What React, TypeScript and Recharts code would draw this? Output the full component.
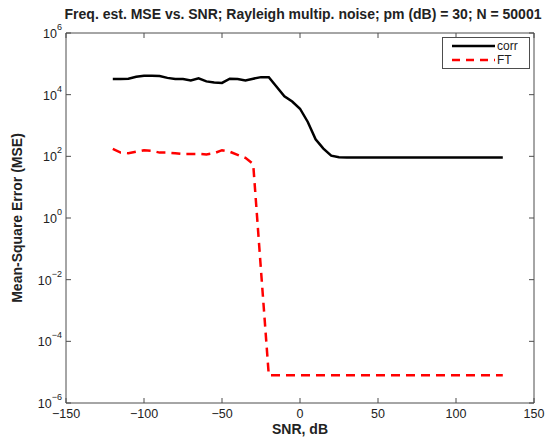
import React from "react";
import { LineChart, Line, XAxis, YAxis, ReferenceLine } from "recharts";

const snr = [
  -120, -115, -110, -105, -100, -95, -90, -85, -80, -75, -70, -65, -60, -55, -50, -45, -40, -35,
  -30, -25, -20, -15, -10, -5, 0, 5, 10, 15, 20, 25, 30, 35, 40, 45, 50, 55, 60, 65, 70, 75, 80,
  85, 90, 95, 100, 105, 110, 115, 120, 125, 130,
];

const corrMse = [
  3.2e4, 3.2e4, 3.3e4, 3.8e4, 4.1e4, 4.1e4, 4.0e4, 3.5e4, 3.2e4, 3.2e4, 2.9e4, 3.4e4, 2.7e4,
  2.5e4, 2.4e4, 3.3e4, 3.2e4, 2.9e4, 3.3e4, 3.7e4, 3.7e4, 1.8e4, 8.9e3, 6.0e3, 3.5e3, 1.3e3, 355,
  178, 105, 93, 91, 91, 91, 91, 91, 91, 91, 91, 91, 91, 91, 91, 91, 91, 91, 91, 91, 91, 91, 91, 91,
];

const ftMse = [
  174, 132, 126, 141, 158, 151, 132, 132, 126, 120, 120, 120, 115, 126, 158, 141, 112, 89, 56,
  0.02, 7.9e-6, 7.9e-6, 7.9e-6, 7.9e-6, 7.9e-6, 7.9e-6, 7.9e-6, 7.9e-6, 7.9e-6, 7.9e-6, 7.9e-6,
  7.9e-6, 7.9e-6, 7.9e-6, 7.9e-6, 7.9e-6, 7.9e-6, 7.9e-6, 7.9e-6, 7.9e-6, 7.9e-6, 7.9e-6, 7.9e-6,
  7.9e-6, 7.9e-6, 7.9e-6, 7.9e-6, 7.9e-6, 7.9e-6, 7.9e-6, 7.9e-6,
];

const xTicks = [-150, -100, -50, 0, 50, 100, 150];
const yTicks = [1e-6, 1e-4, 1e-2, 1, 1e2, 1e4, 1e6];

const data = snr.map((s, i) => ({ snr: s, corr: corrMse[i], ft: ftMse[i] }));

const FONT = "'Liberation Sans', Arial, Helvetica, sans-serif";
const AXIS = "#4d4d4d";
const TXT = "#222";

// plot box edges (chart margins + axis sizes)
const PLOT_TOP = 33;
const PLOT_W = 468;

const BottomTick = (props: any) => {
  const { x, y, payload } = props;
  const v = payload.value;
  return (
    <g>
      <line x1={x} x2={x} y1={y} y2={y - 5} stroke={AXIS} strokeWidth={1} />
      <line x1={x} x2={x} y1={PLOT_TOP} y2={PLOT_TOP + 5} stroke={AXIS} strokeWidth={1} />
      <text x={x} y={y + 15} textAnchor="middle" fontSize={12.5} fill={TXT} fontFamily={FONT}>
        {v < 0 ? `\u2212${Math.abs(v)}` : v}
      </text>
    </g>
  );
};

const LeftTick = (props: any) => {
  const { x, y, payload } = props;
  const exp = Math.round(Math.log10(payload.value));
  return (
    <g>
      <line x1={x} x2={x + 5} y1={y} y2={y} stroke={AXIS} strokeWidth={1} />
      <line x1={x + PLOT_W} x2={x + PLOT_W - 5} y1={y} y2={y} stroke={AXIS} strokeWidth={1} />
      <text x={x - 4} y={y + 5} textAnchor="end" fontSize={12.5} fill={TXT} fontFamily={FONT}>
        <tspan>10</tspan>
        <tspan dy={-8} fontSize={9}>
          {exp < 0 ? `\u2212${Math.abs(exp)}` : exp}
        </tspan>
      </text>
    </g>
  );
};

const LegendBox = () => (
  <div
    style={{
      position: "absolute",
      left: 442,
      top: 37,
      width: 86,
      height: 30,
      border: `1px solid ${AXIS}`,
      background: "#fff",
      fontFamily: FONT,
      fontSize: 12,
      lineHeight: "14px",
      color: TXT,
    }}
  >
    <div style={{ display: "flex", alignItems: "center", height: 14, marginTop: 1 }}>
      <svg width={54} height={14}>
        <line x1={9} x2={52} y1={7} y2={7} stroke="#000" strokeWidth={2.5} />
      </svg>
      <span>corr</span>
    </div>
    <div style={{ display: "flex", alignItems: "center", height: 14 }}>
      <svg width={54} height={14}>
        <line x1={9} x2={52} y1={7} y2={7} stroke="#ff0000" strokeWidth={2.5} strokeDasharray="8 6" />
      </svg>
      <span>FT</span>
    </div>
  </div>
);

export default function App() {
  return (
    <div style={{ position: "absolute", left: 0, top: 0, width: 554, height: 439, background: "#fff" }}>
      <div
        style={{
          position: "absolute",
          left: 0,
          width: 606,
          top: 6,
          textAlign: "center",
          fontFamily: FONT,
          fontWeight: "bold",
          fontSize: 14,
          color: TXT,
          whiteSpace: "nowrap",
        }}
      >
        Freq. est. MSE vs. SNR; Rayleigh multip. noise; pm (dB) = 30; N = 50001
      </div>
      <LineChart width={554} height={439} data={data} margin={{ top: PLOT_TOP, right: 20, bottom: 0, left: 0 }}>
        <XAxis
          dataKey="snr"
          type="number"
          domain={[-150, 150]}
          ticks={xTicks}
          allowDataOverflow
          height={36}
          tickSize={0}
          tickMargin={0}
          tickLine={false}
          stroke={AXIS}
          tick={<BottomTick />}
          label={{
            value: "SNR, dB",
            content: () => (
              <text x={300} y={434} textAnchor="middle" fontSize={14} fontWeight="bold" fill={TXT} fontFamily={FONT}>
                SNR, dB
              </text>
            ),
          }}
        />
        <YAxis
          type="number"
          scale="log"
          domain={[1e-6, 1e6]}
          ticks={yTicks}
          allowDataOverflow
          width={66}
          tickSize={0}
          tickMargin={0}
          tickLine={false}
          stroke={AXIS}
          tick={<LeftTick />}
          label={{
            value: "Mean-Square Error (MSE)",
            content: () => (
              <text
                x={22}
                y={218}
                transform="rotate(-90 22 218)"
                textAnchor="middle"
                fontSize={14}
                fontWeight="bold"
                fill={TXT}
                fontFamily={FONT}
              >
                Mean-Square Error (MSE)
              </text>
            ),
          }}
        />
        {/* frame edges along the top and right of the plot */}
        <ReferenceLine y={1e6} stroke={AXIS} strokeWidth={1} />
        <ReferenceLine x={150} stroke={AXIS} strokeWidth={1} />
        <Line
          dataKey="corr"
          name="corr"
          stroke="#000"
          strokeWidth={2.5}
          dot={false}
          type="linear"
          isAnimationActive={false}
        />
        <Line
          dataKey="ft"
          name="FT"
          stroke="#ff0000"
          strokeWidth={2.5}
          strokeDasharray="9 6"
          dot={false}
          type="linear"
          isAnimationActive={false}
        />
      </LineChart>
      <LegendBox />
    </div>
  );
}
